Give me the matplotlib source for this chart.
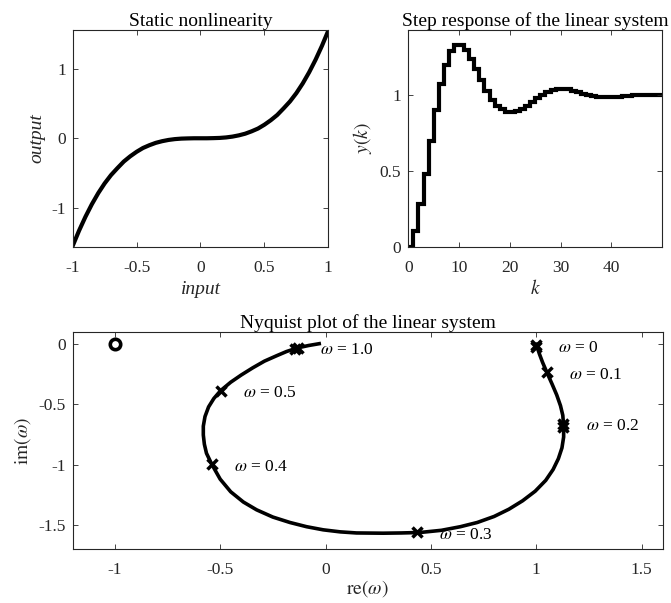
import numpy as np
import matplotlib
matplotlib.use('Agg')
import matplotlib.pyplot as plt

plt.rcParams['font.family'] = ['Liberation Serif', 'DejaVu Serif']
plt.rcParams['mathtext.fontset'] = 'stix'
plt.rcParams['axes.unicode_minus'] = False

# static nonlinearity
nl_input = [-1.0, -0.95, -0.9, -0.85, -0.8, -0.75, -0.7, -0.65, -0.6, -0.55, -0.5,
            -0.45, -0.4, -0.35, -0.3, -0.25, -0.2, -0.15, -0.1, -0.05, 0.0,
            0.05, 0.1, 0.15, 0.2, 0.25, 0.3, 0.35, 0.4, 0.45, 0.5,
            0.55, 0.6, 0.65, 0.7, 0.75, 0.8, 0.85, 0.9, 0.95, 1.0]
nl_output = [-1.55, -1.33, -1.13, -0.95, -0.79, -0.65, -0.53, -0.43, -0.335, -0.26, -0.195,
             -0.14, -0.10, -0.066, -0.042, -0.024, -0.012, -0.005, -0.002, 0.0, 0.0,
             0.0, 0.002, 0.005, 0.012, 0.024, 0.042, 0.066, 0.10, 0.14, 0.195,
             0.26, 0.335, 0.43, 0.53, 0.65, 0.79, 0.95, 1.13, 1.33, 1.55]

# step response y(k), k = 0..49
step_y = [0.0, 0.10, 0.28, 0.48, 0.70, 0.90, 1.07, 1.20, 1.29, 1.33,
          1.33, 1.30, 1.24, 1.17, 1.10, 1.03, 0.97, 0.93, 0.905, 0.89,
          0.888, 0.895, 0.91, 0.93, 0.955, 0.98, 1.00, 1.018, 1.032, 1.04,
          1.042, 1.038, 1.03, 1.02, 1.01, 1.00, 0.994, 0.99, 0.988, 0.987,
          0.988, 0.99, 0.993, 0.996, 0.999, 1.001, 1.003, 1.003, 1.003, 1.002]

# nyquist curve, from omega = 0 round to the end near the origin
nyq_re = [1.0, 1.015, 1.03, 1.05, 1.075, 1.097, 1.115, 1.126, 1.13, 1.13, 1.122,
          1.105, 1.08, 1.045, 0.995, 0.935, 0.87, 0.80, 0.72, 0.64, 0.55,
          0.449, 0.36, 0.273, 0.147, 0.07, -0.011, -0.09, -0.169, -0.25, -0.327,
          -0.39, -0.45, -0.50, -0.54, -0.565, -0.575, -0.58, -0.58, -0.572, -0.555,
          -0.53, -0.498, -0.45, -0.40, -0.345, -0.29, -0.232, -0.185, -0.133, -0.08, -0.03]
nyq_im = [0.0, -0.08, -0.15, -0.232, -0.33, -0.42, -0.51, -0.59, -0.68, -0.77, -0.86,
          -0.95, -1.04, -1.13, -1.22, -1.30, -1.37, -1.43, -1.48, -1.515, -1.545,
          -1.563, -1.567, -1.569, -1.567, -1.558, -1.541, -1.515, -1.48, -1.435, -1.375,
          -1.31, -1.225, -1.12, -0.996, -0.905, -0.83, -0.753, -0.68, -0.60, -0.52,
          -0.45, -0.385, -0.315, -0.255, -0.195, -0.14, -0.095, -0.06, -0.03, -0.01, 0.005]

omega_labels = ['0', '0.1', '0.2', '0.3', '0.4', '0.5', '1.0']
omega_re = [1.0, 1.05, 1.129, 0.433, -0.54, -0.498, -0.133]
omega_im = [-0.01, -0.232, -0.66, -1.562, -0.996, -0.385, -0.03]
# a few frequencies show a second cross right next to the first
dup_re = [1.0, 1.129, -0.145]
dup_im = [-0.025, -0.684, -0.035]

grey = (0.15, 0.15, 0.15)

fig = plt.figure(figsize=(6.71, 6.03), dpi=100)
ax1 = fig.add_axes([0.1083, 0.591, 0.381, 0.3594])
ax2 = fig.add_axes([0.6085, 0.591, 0.3785, 0.3594])
ax3 = fig.add_axes([0.1083, 0.0896, 0.8793, 0.3594])

for ax in (ax1, ax2, ax3):
    for s in ax.spines.values():
        s.set_color(grey)
        s.set_linewidth(0.8)
    ax.tick_params(direction='in', top=True, right=True, length=3.5, width=0.6,
                   colors=grey, labelsize=12.5)
    ax.tick_params(axis='x', pad=9.5)
    ax.tick_params(axis='y', pad=5)

ax1.plot(nl_input, nl_output, '-k', lw=3)
ax1.set_xlim(-1, 1)
ax1.set_ylim(-1.56, 1.56)
ax1.set_xticks([-1, -0.5, 0, 0.5, 1])
ax1.set_xticklabels(['-1', '-0.5', '0', '0.5', '1'])
ax1.set_yticks([-1, 0, 1])
ax1.set_title('Static nonlinearity', fontsize=14, pad=3)
ax1.set_xlabel('input', fontsize=14, style='italic', color=grey, labelpad=4)
ax1.set_ylabel('output', fontsize=14, style='italic', color=grey, labelpad=4)

k_edges = np.arange(len(step_y) + 1)
ax2.stairs(step_y, k_edges, baseline=None, color='k', lw=3)
ax2.set_xlim(0, 50)
ax2.set_ylim(0, 1.43)
ax2.set_xticks([0, 10, 20, 30, 40])
ax2.set_yticks([0, 0.5, 1])
ax2.set_yticklabels(['0', '0.5', '1'])
ax2.set_title('Step response of the linear system', fontsize=14, pad=3)
ax2.set_xlabel('$k$', fontsize=14, color=grey, labelpad=2)
ax2.set_ylabel('$y(k)$', fontsize=14, color=grey, labelpad=4)

ax3.plot(nyq_re, nyq_im, '-k', lw=2.6)
ax3.plot([-1], [0], 'o', mfc='none', mec='k', ms=7.5, mew=2.6)
ax3.plot(omega_re, omega_im, 'xk', ms=6.5, mew=2.5)
ax3.plot(dup_re, dup_im, 'xk', ms=6.5, mew=2.5)
for lab, xr, yi in zip(omega_labels, omega_re, omega_im):
    ax3.text(xr + 0.105, yi - 0.02, r'$\omega$ = ' + lab, fontsize=12.5,
             va='center', ha='left')
ax3.set_xlim(-1.2, 1.6)
ax3.set_ylim(-1.7, 0.1)
ax3.set_xticks([-1, -0.5, 0, 0.5, 1, 1.5])
ax3.set_xticklabels(['-1', '-0.5', '0', '0.5', '1', '1.5'])
ax3.set_yticks([-1.5, -1, -0.5, 0])
ax3.set_yticklabels(['-1.5', '-1', '-0.5', '0'])
ax3.set_title('Nyquist plot of the linear system', fontsize=14, pad=3)
ax3.set_xlabel(r'$\mathrm{re}(\omega)$', fontsize=14, color=grey, labelpad=0)
ax3.set_ylabel(r'$\mathrm{im}(\omega)$', fontsize=14, color=grey, labelpad=4)

fig.savefig('out.png', dpi=100)
